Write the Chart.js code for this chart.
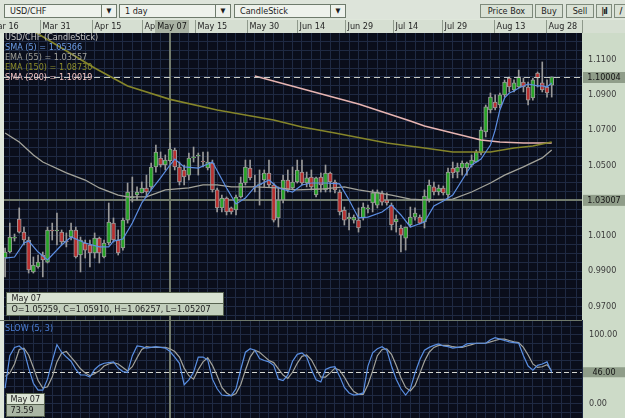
<!DOCTYPE html>
<html>
<head>
<meta charset="utf-8">
<title>USD/CHF</title>
<script src="https://cdn.jsdelivr.net/npm/chart.js@4.4.1/dist/chart.umd.min.js"></script>
<style>
  body { margin: 0; width: 625px; height: 418px; overflow: hidden; background: #dde4da; position: relative;
         font-family: "DejaVu Sans Condensed", "DejaVu Sans", sans-serif; }
  .sel, .btn { position: absolute; top: 4px; height: 14px; box-sizing: border-box; font-size: 9px; line-height: 12px; color: #1c1c1c; white-space: nowrap; }
  .sel { border: 1px solid #6e7b6c; background: #eef2ec; padding-left: 5px; }
  .sel span { position: absolute; right: 0; top: 0; width: 14px; height: 12px; border-left: 1px solid #6e7b6c; font-size: 7px; text-align: center; }
  .btn { border: 1px solid #7e8a7b; background: #d9e1d5; text-align: center; }
  canvas { position: absolute; left: 0; }
</style>
</head>
<body>
<div class="sel" style="left:4px;width:113px">USD/CHF<span>▼</span></div>
<div class="sel" style="left:119px;width:112px">1 day<span>▼</span></div>
<div class="sel" style="left:234px;width:112px">CandleStick<span>▼</span></div>
<div class="btn" style="left:480px;width:53px">Price Box</div>
<div class="btn" style="left:535px;width:28px">Buy</div>
<div class="btn" style="left:566px;width:28px">Sell</div>
<div class="btn" style="left:596px;width:16px;font-weight:bold;letter-spacing:-1px">|ıl</div>
<div class="btn" style="left:614px;width:14px;font-weight:bold">/</div>
<canvas id="main" width="625" height="301" style="top:19px"></canvas>
<canvas id="osc" width="625" height="98" style="top:320px"></canvas>
<script>
// daily USD/CHF candles, one entry per trading day (oldest first)
var opens = [0.9974,1.0008,1.0087,1.0195,1.0121,1.0076,0.9895,0.9923,0.9991,0.9951,
  1.0133,1.0127,1.0121,1.0070,1.0093,1.0133,0.9991,1.0059,1.0048,1.0003,
  1.0087,0.9980,1.0059,1.0172,1.0076,1.0031,1.0189,1.0314,1.0331,1.0343,
  1.0371,1.0377,1.0490,1.0541,1.0501,1.05259,1.0586,1.0490,1.0473,1.0444,
  1.0541,1.0552,1.0524,1.0484,1.0512,1.0360,1.0258,1.0314,1.0258,1.0246,
  1.0320,1.0399,1.0484,1.0380,1.0388,1.0416,1.0456,1.0388,1.0201,1.0303,
  1.0416,1.0371,1.0405,1.0461,1.0399,1.0433,1.0331,1.0433,1.0360,1.0456,
  1.0405,1.0348,1.0246,1.0195,1.0189,1.0189,1.0201,1.0252,1.0286,1.0274,
  1.0343,1.0303,1.0274,1.0178,1.0144,1.0087,1.0161,1.0206,1.0206,1.0178,
  1.0308,1.0377,1.0348,1.0371,1.0331,1.0484,1.0461,1.0484,1.0484,1.0501,
  1.0518,1.0569,1.0688,1.0813,1.0858,1.0841,1.0898,1.0994,1.0926,1.0943,
  1.0971,1.0943,1.0881,1.1022,1.0966,1.0943,1.0954];
var highs = [1.0031,1.0172,1.0110,1.0258,1.0150,1.0093,0.9980,0.9991,1.0008,1.0150,
  1.0172,1.0229,1.0133,1.0116,1.0172,1.0150,1.0093,1.0076,1.0076,1.0116,
  1.0093,1.0076,1.0286,1.0201,1.0133,1.0201,1.0399,1.0433,1.0377,1.0405,
  1.0444,1.0512,1.0614,1.0575,1.0558,1.06257,1.0597,1.0518,1.0501,1.0569,
  1.0603,1.0569,1.0575,1.0575,1.0529,1.0371,1.0331,1.0320,1.0263,1.0331,
  1.0433,1.0529,1.0529,1.0444,1.0473,1.0473,1.0529,1.0399,1.0377,1.0444,
  1.0473,1.0490,1.0529,1.0529,1.0461,1.0473,1.0433,1.0456,1.0501,1.0461,
  1.0416,1.0360,1.0263,1.0229,1.0218,1.0258,1.0286,1.0274,1.0360,1.0360,
  1.0354,1.0343,1.0286,1.0218,1.0161,1.0150,1.0263,1.0258,1.0218,1.0360,
  1.0416,1.0405,1.0388,1.0382,1.0484,1.0518,1.0512,1.0524,1.0518,1.0558,
  1.0586,1.0716,1.0841,1.0909,1.0898,1.0909,1.0983,1.1000,1.0983,1.1039,
  1.0994,1.0971,1.0994,1.1028,1.1085,1.0983,1.1000];
var lows = [0.9867,1.0003,1.0070,1.0116,1.0048,0.9889,0.9889,0.9917,0.9867,0.9946,
  1.0076,1.0048,1.0048,1.0037,1.0076,0.9974,0.9895,0.9974,0.9923,0.9974,
  0.9946,0.9974,1.0048,1.0065,0.9991,1.0019,1.0172,1.0291,1.0303,1.0343,
  1.0320,1.0360,1.0461,1.0490,1.0473,1.05207,1.0473,1.0388,1.0388,1.0416,
  1.0518,1.0444,1.0490,1.0473,1.0348,1.0235,1.0235,1.0218,1.0223,1.0218,
  1.0314,1.0388,1.0416,1.0348,1.0274,1.0377,1.0377,1.0178,1.0150,1.0286,
  1.0348,1.0360,1.0399,1.0388,1.0377,1.0360,1.0320,1.0348,1.0348,1.0348,
  1.0343,1.0218,1.0161,1.0133,1.0172,1.0121,1.0189,1.0229,1.0235,1.0258,
  1.0274,1.0274,1.0133,1.0121,1.0008,1.0019,1.0150,1.0189,1.0167,1.0144,
  1.0291,1.0331,1.0331,1.0331,1.0314,1.0428,1.0428,1.0444,1.0444,1.0490,
  1.0518,1.0558,1.0660,1.0796,1.0813,1.0824,1.0886,1.0915,1.0915,1.0937,
  1.0915,1.0841,1.0869,1.0943,1.0915,1.0886,1.0886];
var closes = [1.0008,1.0093,1.0093,1.0121,1.0076,0.9906,0.9934,0.9951,0.9963,1.0133,
  1.0127,1.0133,1.0065,1.0065,1.0133,0.9980,1.0076,1.0019,1.0003,1.0087,
  1.0003,1.0059,1.0178,1.0076,1.0003,1.0189,1.0348,1.0320,1.0348,1.0371,
  1.0348,1.0490,1.0575,1.0501,1.0529,1.05910,1.0490,1.0405,1.0433,1.0541,
  1.0547,1.0558,1.0518,1.0518,1.0360,1.0258,1.0314,1.0235,1.0235,1.0320,
  1.0399,1.0490,1.0428,1.0377,1.0394,1.0456,1.0388,1.0189,1.0303,1.0416,
  1.0360,1.0405,1.0473,1.0399,1.0428,1.0377,1.0428,1.0388,1.0456,1.0405,
  1.0360,1.0235,1.0189,1.0206,1.0206,1.0144,1.0263,1.0258,1.0343,1.0348,
  1.0291,1.0286,1.0161,1.0195,1.0104,1.0150,1.0206,1.0229,1.0172,1.0325,
  1.0388,1.0348,1.0371,1.0343,1.0461,1.0456,1.0490,1.0512,1.0512,1.0529,
  1.0575,1.0699,1.0830,1.0886,1.0824,1.0898,1.0971,1.0943,1.0966,1.1000,
  1.0943,1.0869,1.0983,1.0994,1.0926,1.0909,1.1000];

// moving averages at these bar numbers
var sma5At = [0,2,4,5,7,9,12,14,17,20,22,23,25,27,29,31,33,35,36,38,41,44,47,49,51,53,56,58,61,63,
  65,68,71,73,75,77,80,82,84,86,89,91,93,95,97,99,101,102,103,104,105,106,107,108,109,111,113,114,115,116];
var sma5 = [0.9974,0.9980,1.0059,1.0070,1.0008,0.9963,1.0048,1.0093,1.0059,1.0037,1.0037,1.0070,1.0082,1.0172,1.0286,
  1.0360,1.0428,1.0501,1.0535,1.0490,1.0484,1.0518,1.0371,1.0280,1.0314,1.0377,1.0416,1.0371,1.0348,1.0388,
  1.0399,1.0399,1.0394,1.0303,1.0201,1.0206,1.0235,1.0274,1.0218,1.0150,1.0178,1.0269,1.0297,1.0331,1.0416,
  1.0501,1.0535,1.0575,1.0614,1.0699,1.0813,1.0881,1.0909,1.0920,1.0937,1.0960,1.0949,1.0949,1.0943,1.0966];
var ema55At = [0,3,6,8,13,17,20,24,26,30,34,39,42,45,48,53,58,62,67,72,75,79,82,86,89,95,99,103,106,110,114,116];
var ema55 = [1.0682,1.0631,1.0558,1.0518,1.0456,1.0416,1.0371,1.0331,1.0320,1.0320,1.0360,1.0371,1.0388,1.0388,1.0377,
  1.0377,1.0371,1.0360,1.0365,1.0377,1.0360,1.0343,1.0331,1.0308,1.0303,1.0308,1.0348,1.0399,1.0444,1.0490,1.0541,1.0586];
var ema150At = [0,6,12,19,26,35,45,57,63,70,81,89,95,103,108,112,116];
var ema150 = [1.1357,1.1260,1.1164,1.1051,1.0949,1.0873,1.0813,1.0756,1.0716,1.0682,1.0626,1.0597,1.0575,1.0575,1.0597,1.0609,1.0631];
var sma200At = [53,64,75,86,89,95,101,105,110,116];
var sma200 = [1.1005,1.0926,1.0847,1.0750,1.0722,1.0682,1.0643,1.0631,1.0626,1.0626];

// slow stochastic (5, 3)
var slowK = [23,70,82,84,78,52,30,20,20,36,62,86,75,68,62,50,42,42,39,50,
  56,59,60,61,52,47,46,70,84,83,81,82,83,82,81,76,68,59,28,35,
  46,68,68,64,36,22,13,12,12,22,50,75,80,78,66,63,61,56,36,34,
  42,62,72,74,68,50,35,32,50,53,54,40,24,16,13,14,16,55,74,80,
  83,78,55,36,22,13,22,45,64,78,82,85,87,84,83,81,82,83,87,88,
  88,88,88,93,96,94,92,90,89,88,70,55,49,56,58,61,46];
var slowD = [40,45,58,79,81,71,53,34,23,25,39,61,74,76,68,60,51,45,41,44,
  48,55,58,60,58,53,48,54,67,79,83,82,82,82,82,80,76,68,52,41,
  36,50,61,67,56,41,24,16,12,15,28,49,68,78,75,69,63,60,51,42,
  37,46,59,69,71,64,51,39,39,45,52,49,39,27,18,14,14,28,48,70,
  79,80,72,56,38,24,19,27,44,62,75,82,85,85,85,83,82,82,84,86,
  88,88,88,90,92,94,94,92,90,89,82,71,58,53,54,57,48];

// date strip: bar position where each label box starts
var dateAt = [-3.63, 7.41, 18.44, 29.05, 40.30, 51.34, 61.95, 72.13, 82.32, 92.72, 103.76, 114.79];
var dateLabels = ['Mar 16','Mar 31','Apr 15','Apr 30','May 15','May 30','Jun 14','Jun 29','Jul 14','Jul 29','Aug 13','Aug 28'];
var priceLabels = [0.97, 0.99, 1.01, 1.03, 1.05, 1.07, 1.09, 1.11];
var oscLabels = [0, 100];

var legendRows = ['USD/CHF (CandleStick)', 'SMA (5) = 1.05366', 'EMA (55) = 1.03557', 'EMA (150) = 1.08730', 'SMA (200) = 1.10019'];
var legendColors = ['#c6c6c6', '#6c9de6', '#a2a29a', '#8f8f2c', '#f1c3c1'];

var crossBar = 35, crossDate = 'May 07', crossPrice = 1.03007, lastPrice = 1.10004;
var crossSlow = '73.59', slowLevel = 46;

var FONT = '"DejaVu Sans Condensed", "DejaVu Sans", sans-serif';
var BG = '#0a0e1b', GRID = '#1f2a43', PANEL = '#cddbc8', STRIP = '#d6dfd2', HILITE = '#8f9d89';
var WICK = '#9a9a9a', UP = '#27a327', DOWN = '#b83030';
var X_MIN = -0.233, X_MAX = 122.43;
var Y_MIN = 0.96229, Y_MAX = 1.1249;

Chart.defaults.font.family = FONT;

var bars = opens.map(function(o, i) { return i; });
function pts(at, vals) { return at.map(function(x, i) { return {x: x, y: vals[i]}; }); }

var priceGrid = [];
for (var k = 193; k <= 224; k++) priceGrid.push(+(k * 0.005).toFixed(3));
var oscGrid = [];
for (var j = -1; j <= 9; j++) oscGrid.push(j * 12.5);

function labelBox(ctx, x, y, w, h, fill, text) {
    ctx.fillStyle = fill;
    ctx.fillRect(x, y, w, h);
    ctx.fillStyle = '#151515';
    ctx.textAlign = 'center';
    ctx.textBaseline = 'middle';
    ctx.fillText(text, x + w / 2, y + h / 2 + 0.5);
}

var mainDeco = {
    id: 'mainDeco',
    beforeDraw: function(chart) {
        var ctx = chart.ctx, a = chart.chartArea;
        ctx.save();
        ctx.fillStyle = '#dfe7db';
        ctx.fillRect(0, 0, chart.width, chart.height);
        ctx.fillStyle = STRIP;
        ctx.fillRect(0, 1, chart.width, a.top - 1);
        ctx.fillStyle = BG;
        ctx.fillRect(a.left, a.top, a.right - a.left, a.bottom - a.top);
        ctx.fillStyle = PANEL;
        ctx.fillRect(a.right, a.top, chart.width - a.right, chart.height - a.top);
        var xs = chart.scales.x;
        ctx.strokeStyle = '#8e998b';
        ctx.lineWidth = 1;
        var seps = xs.ticks.map(function(t) { return xs.getPixelForValue(t.value); }).concat([a.right]);
        seps.forEach(function(px) {
            px = Math.round(px) + 0.5;
            ctx.beginPath(); ctx.moveTo(px, 1); ctx.lineTo(px, a.top); ctx.stroke();
        });
        ctx.restore();
    },
    beforeDatasetsDraw: function(chart) {
        var ctx = chart.ctx, a = chart.chartArea;
        var cx = Math.round(chart.scales.x.getPixelForValue(crossBar));
        var cy = Math.round(chart.scales.y.getPixelForValue(crossPrice));
        ctx.save();
        ctx.fillStyle = '#737c6d';
        ctx.fillRect(cx - 1, a.top, 2, a.bottom - a.top);
        ctx.fillRect(a.left, cy - 1, a.right - a.left, 2);
        ctx.restore();
    },
    afterDraw: function(chart) {
        var ctx = chart.ctx, a = chart.chartArea;
        var ys = chart.scales.y;
        ctx.save();
        // last price line
        var ly = Math.round(ys.getPixelForValue(lastPrice)) + 0.5;
        ctx.strokeStyle = '#c9ccc4';
        ctx.setLineDash([6, 4]);
        ctx.beginPath(); ctx.moveTo(a.left, ly); ctx.lineTo(a.right, ly); ctx.stroke();
        ctx.setLineDash([]);
        ctx.font = '9px ' + FONT;
        // indicator legend
        ctx.textAlign = 'left';
        ctx.textBaseline = 'middle';
        legendRows.forEach(function(row, i) {
            ctx.fillStyle = legendColors[i];
            ctx.fillText(row, a.left + 1, a.top + 4.5 + i * 10);
        });
        // right-axis value boxes
        labelBox(ctx, a.right + 1, ly - 5.5, chart.width - a.right - 1, 11, HILITE, lastPrice.toFixed(5));
        var cy = ys.getPixelForValue(crossPrice);
        labelBox(ctx, a.right + 1, cy - 5.5, chart.width - a.right - 1, 11, HILITE, crossPrice.toFixed(5));
        // crosshair date in the strip
        var cx = chart.scales.x.getPixelForValue(crossBar);
        labelBox(ctx, cx - 15, 1, 34, a.top - 1, '#a9b2a3', crossDate);
        // OHLC box
        var i = crossBar;
        var ohlc = 'O=' + opens[i].toFixed(5) + ', C=' + closes[i].toFixed(5) +
                   ', H=' + highs[i].toFixed(5) + ', L=' + lows[i].toFixed(5);
        var bx = a.left + 2.5, bw = 217, by = a.bottom - 27.5;
        ctx.fillStyle = '#d8e2d2';
        ctx.fillRect(bx, by, bw, 11);
        ctx.fillStyle = '#c2cfbc';
        ctx.fillRect(bx, by + 11, bw, 12);
        ctx.strokeStyle = '#56624f';
        ctx.lineWidth = 1;
        ctx.strokeRect(bx, by, bw, 23);
        ctx.beginPath(); ctx.moveTo(bx, by + 11); ctx.lineTo(bx + bw, by + 11); ctx.stroke();
        ctx.fillStyle = '#1a1a1a';
        ctx.textAlign = 'left';
        ctx.fillText(crossDate, bx + 5, by + 6);
        ctx.fillText(ohlc, bx + 5, by + 17.5);
        ctx.restore();
    }
};

new Chart(document.getElementById('main'), {
    type: 'bar',
    data: {
        datasets: [{
            label: 'wick',
            data: bars.map(function(i) { return {x: i, y: [lows[i], highs[i]]}; }),
            backgroundColor: WICK,
            barThickness: 1,
            grouped: false,
            order: 6
        }, {
            label: 'body',
            data: bars.map(function(i) { return {x: i, y: [opens[i], closes[i]]}; }),
            backgroundColor: bars.map(function(i) { return closes[i] >= opens[i] ? UP : DOWN; }),
            borderColor: WICK,
            borderWidth: 1,
            borderSkipped: false,
            barThickness: 4,
            grouped: false,
            order: 5
        }, {
            type: 'line', label: 'SMA (200)', data: pts(sma200At, sma200),
            borderColor: '#e7b5b2', borderWidth: 1.6, pointRadius: 0, order: 4
        }, {
            type: 'line', label: 'EMA (150)', data: pts(ema150At, ema150),
            borderColor: '#86862a', borderWidth: 1.6, pointRadius: 0, order: 3
        }, {
            type: 'line', label: 'EMA (55)', data: pts(ema55At, ema55),
            borderColor: '#a3a39a', borderWidth: 1.3, pointRadius: 0, order: 2
        }, {
            type: 'line', label: 'SMA (5)', data: pts(sma5At, sma5),
            borderColor: '#5d8fe4', borderWidth: 1.2, pointRadius: 0, order: 1
        }]
    },
    options: {
        responsive: false,
        animation: false,
        devicePixelRatio: 1,
        layout: { padding: { left: 4, right: 0, top: 0, bottom: 0 } },
        plugins: { legend: { display: false }, tooltip: { enabled: false } },
        scales: {
            x: {
                type: 'linear', position: 'top', min: X_MIN, max: X_MAX, offset: false,
                afterBuildTicks: function(s) { s.ticks = dateAt.map(function(v) { return {value: v}; }); },
                afterFit: function(s) { s.height = 14; s.paddingLeft = 0; s.paddingRight = 0; },
                ticks: {
                    autoSkip: false, maxRotation: 0, align: 'start', padding: 1, color: '#262626',
                    font: { family: FONT, size: 9 },
                    callback: function(v, i) { return ' ' + dateLabels[i]; }
                },
                grid: { display: false, drawTicks: false },
                border: { display: false }
            },
            xg: {
                type: 'linear', position: 'bottom', min: X_MIN, max: X_MAX, offset: false,
                ticks: { display: false, stepSize: 2 },
                grid: { color: GRID, drawTicks: false },
                border: { display: false },
                afterFit: function(s) { s.height = 0; }
            },
            y: {
                type: 'linear', position: 'right', min: Y_MIN, max: Y_MAX,
                afterBuildTicks: function(s) { s.ticks = priceGrid.map(function(v) { return {value: v}; }); },
                afterFit: function(s) { s.width = 43; s.paddingTop = 0; s.paddingBottom = 0; },
                ticks: {
                    autoSkip: false, padding: 6, color: '#3b3b3b', font: { family: FONT, size: 9 },
                    callback: function(v) {
                        var hit = priceLabels.some(function(p) { return Math.abs(p - v) < 1e-6; });
                        return hit ? v.toFixed(4) : '';
                    }
                },
                grid: { color: GRID, drawTicks: false },
                border: { display: false }
            }
        }
    },
    plugins: [mainDeco]
});

var oscDeco = {
    id: 'oscDeco',
    beforeDraw: function(chart) {
        var ctx = chart.ctx, a = chart.chartArea;
        ctx.save();
        ctx.fillStyle = '#dfe7db';
        ctx.fillRect(0, 0, chart.width, chart.height);
        ctx.fillStyle = BG;
        ctx.fillRect(a.left, a.top, a.right - a.left, a.bottom - a.top);
        ctx.fillStyle = PANEL;
        ctx.fillRect(a.right, 0, chart.width - a.right, chart.height);
        ctx.restore();
    },
    beforeDatasetsDraw: function(chart) {
        var ctx = chart.ctx, a = chart.chartArea;
        var cx = Math.round(chart.scales.x.getPixelForValue(crossBar));
        ctx.save();
        ctx.fillStyle = '#737c6d';
        ctx.fillRect(cx - 1, a.top, 2, a.bottom - a.top);
        var ly = Math.round(chart.scales.y.getPixelForValue(slowLevel)) + 0.5;
        ctx.strokeStyle = '#d4d6d0';
        ctx.setLineDash([5, 3]);
        ctx.beginPath(); ctx.moveTo(a.left, ly); ctx.lineTo(a.right, ly); ctx.stroke();
        ctx.restore();
    },
    afterDraw: function(chart) {
        var ctx = chart.ctx, a = chart.chartArea;
        ctx.save();
        ctx.fillStyle = '#6f7a6b';
        ctx.fillRect(0, 0, a.right, 1);
        ctx.font = '9px ' + FONT;
        ctx.fillStyle = '#4b7fd6';
        ctx.textAlign = 'left';
        ctx.textBaseline = 'middle';
        ctx.fillText('SLOW (5, 3)', a.left + 1, 9);
        var ly = chart.scales.y.getPixelForValue(slowLevel);
        labelBox(ctx, a.right + 1, ly - 5, chart.width - a.right - 1, 10, HILITE, slowLevel.toFixed(2));
        // crosshair readout
        var bx = a.left + 2.5, bw = 38, by = 73.5;
        ctx.fillStyle = '#dbe4d5';
        ctx.fillRect(bx, by, bw, 11);
        ctx.fillStyle = '#aab6a4';
        ctx.fillRect(bx, by + 11, bw, 12);
        ctx.strokeStyle = '#56624f';
        ctx.strokeRect(bx, by, bw, 23);
        ctx.beginPath(); ctx.moveTo(bx, by + 11); ctx.lineTo(bx + bw, by + 11); ctx.stroke();
        ctx.fillStyle = '#1a1a1a';
        ctx.textAlign = 'left';
        ctx.fillText(crossDate, bx + 4, by + 6);
        ctx.fillText(crossSlow, bx + 4, by + 17.5);
        ctx.restore();
    }
};

new Chart(document.getElementById('osc'), {
    type: 'line',
    data: {
        datasets: [{
            label: '%D', data: bars.map(function(i) { return {x: i, y: slowD[i]}; }),
            borderColor: '#a3a39b', borderWidth: 1.2, pointRadius: 0, order: 2
        }, {
            label: '%K', data: bars.map(function(i) { return {x: i, y: slowK[i]}; }),
            borderColor: '#5a8fe3', borderWidth: 1.2, pointRadius: 0, order: 1
        }]
    },
    options: {
        responsive: false,
        animation: false,
        devicePixelRatio: 1,
        layout: { padding: { left: 4, right: 0, top: 0, bottom: 0 } },
        plugins: { legend: { display: false }, tooltip: { enabled: false } },
        scales: {
            x: {
                type: 'linear', min: X_MIN, max: X_MAX, offset: false,
                ticks: { display: false, stepSize: 2 },
                grid: { color: GRID, drawTicks: false },
                border: { display: false },
                afterFit: function(s) { s.height = 0; }
            },
            y: {
                position: 'right', min: -20.3, max: 121.7,
                afterBuildTicks: function(s) { s.ticks = oscGrid.map(function(v) { return {value: v}; }); },
                afterFit: function(s) { s.width = 43; s.paddingTop = 0; s.paddingBottom = 0; },
                ticks: {
                    autoSkip: false, padding: 7, color: '#3b3b3b', font: { family: FONT, size: 9 },
                    callback: function(v) { return oscLabels.indexOf(v) >= 0 ? v.toFixed(2) : ''; }
                },
                grid: { color: GRID, drawTicks: false },
                border: { display: false }
            }
        }
    },
    plugins: [oscDeco]
});
</script>
</body>
</html>
